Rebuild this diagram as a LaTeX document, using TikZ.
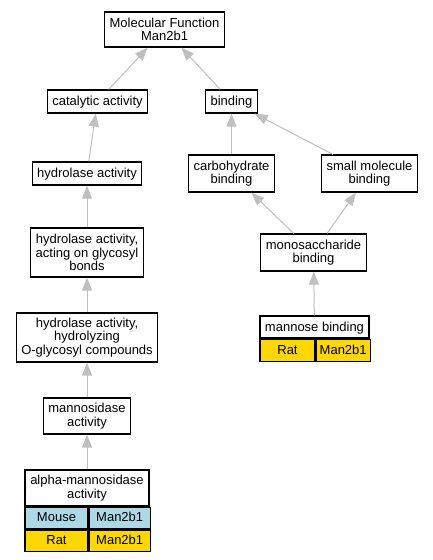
\documentclass[tikz,border=0pt]{standalone}
\usepackage{fontspec}
\setmainfont{Liberation Sans}
\usepackage{tikz}
\usetikzlibrary{arrows.meta}

\definecolor{mouseblue}{HTML}{ADD8E6}
\definecolor{ratgold}{HTML}{FFD700}
\newcommand{\gofont}{\fontsize{13}{13.3}\selectfont}

\begin{document}
\begin{tikzpicture}[
block/.style={rectangle, draw, line width=1.2pt, fill=white, align=center,
font=\gofont, inner xsep=5pt, inner ysep=2pt, minimum height=23pt},
oneline/.style={text height=10pt, text depth=2pt},
cell/.style={rectangle, draw, line width=1.2pt, font=\gofont, minimum height=21.5pt, inner sep=0pt,
text height=10pt, text depth=2pt, anchor=north west},
edge/.style={draw=gray!50, line width=1pt, -{Triangle[length=13pt,width=10pt]}},
node distance=72pt
]
\useasboundingbox (0,0) rectangle (433pt,-560pt);

\node[block, minimum height=35pt] (mf) at (164.5pt,-29.5pt) {Molecular Function\\Man2b1};
\node[block, oneline, below of=mf, xshift=-67pt] (catalytic) {catalytic activity};
\node[block, oneline, below of=mf, xshift=67pt] (binding) {binding};
\node[block, oneline, below of=catalytic, xshift=-10.5pt] (hydrolase) {hydrolase activity};
\node[block, below of=binding, minimum height=37pt] (carbo) {carbohydrate\\binding};
\node[block, right of=carbo, node distance=138pt, minimum height=37pt] (smallmol) {small molecule\\binding};
\node[block, node distance=79pt, below of=hydrolase, minimum height=49pt] (glycosyl) {hydrolase activity,\\acting on glycosyl\\bonds};
\node[block, node distance=79pt, below of=carbo, xshift=82pt, minimum height=37pt] (monosac) {monosaccharide\\binding};
\node[block, node distance=85pt, below of=glycosyl, minimum height=49pt] (oglycosyl) {hydrolase activity,\\hydrolyzing\\O-glycosyl compounds};
\node[block, oneline, node distance=74.5pt, below of=monosac, xshift=1pt, minimum width=109pt, minimum height=22pt] (mannose) {mannose binding};
\node[block, node distance=78.5pt, below of=oglycosyl, minimum height=36pt] (mannosidase) {mannosidase\\activity};
\node[block, below of=mannosidase, minimum width=124pt, minimum height=36pt] (alpha) {alpha-mannosidase\\activity};

% species rows
\node[cell, fill=ratgold, minimum width=55pt, minimum height=22pt] (manrat) at (mannose.south west) {Rat};
\node[cell, fill=ratgold, minimum width=54pt, minimum height=22pt] (manratgene) at (manrat.north east) {Man2b1};
\node[cell, fill=mouseblue, minimum width=63pt] (alphamouse) at (alpha.south west) {Mouse};
\node[cell, fill=mouseblue, minimum width=61pt] (alphamousegene) at (alphamouse.north east) {Man2b1};
\node[cell, fill=ratgold, minimum width=63pt] (alpharat) at (alphamouse.south west) {Rat};
\node[cell, fill=ratgold, minimum width=61pt] (alpharatgene) at (alpharat.north east) {Man2b1};

\draw[edge] (catalytic)--(mf);
\draw[edge] (binding)--(mf);
\draw[edge] (hydrolase)--(catalytic);
\draw[edge] (carbo)--(binding);
\draw[edge] (smallmol)--(binding);
\draw[edge] (glycosyl)--(hydrolase);
\draw[edge] (monosac)--(carbo);
\draw[edge] (monosac)--(smallmol);
\draw[edge] (oglycosyl)--(glycosyl);
\draw[edge] (mannose)--(monosac);
\draw[edge] (mannosidase)--(oglycosyl);
\draw[edge] (alpha)--(mannosidase);
\end{tikzpicture}
\end{document}
